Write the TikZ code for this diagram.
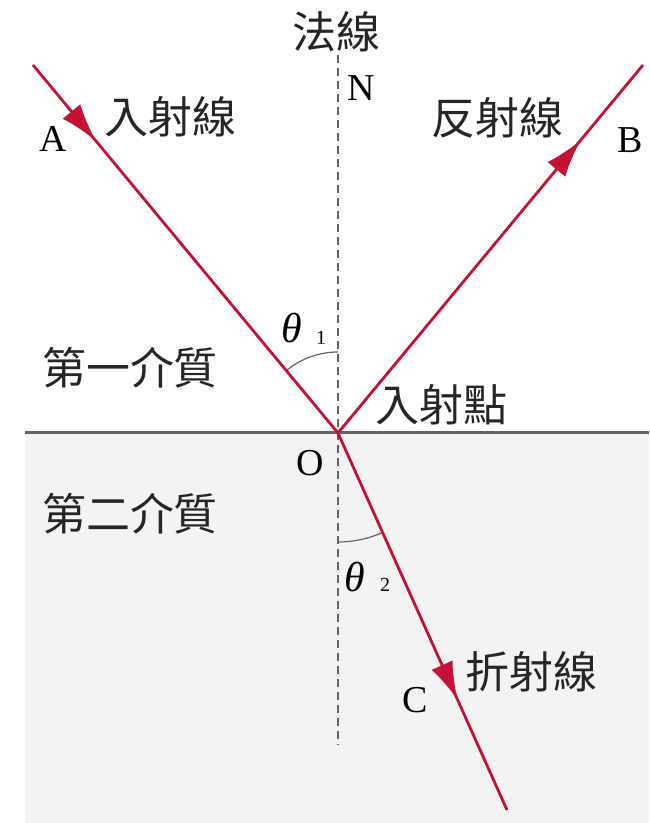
\documentclass[tikz,border=0pt]{standalone}
\usepackage{fontspec}
\setmainfont{Liberation Serif}
\newfontfamily\cjk{Noto Sans CJK TC}
\usetikzlibrary{calc,arrows.meta,decorations.markings}
\definecolor{rayred}{RGB}{196,18,52}
\definecolor{bglow}{RGB}{243,243,243}
\definecolor{lineg}{RGB}{100,100,100}
\tikzset{
  ray/.style={draw=rayred, line width=2.8pt},
  rayarrow/.style={postaction={decorate}, decoration={markings, mark=at position #1 with {\arrow[rayred]{Latex[length=38pt,width=23pt]}}}},
  cjklabel/.style={font=\cjk\fontsize{44}{44}\selectfont, inner sep=0pt, text=black!85},
  letter/.style={font=\fontsize{38}{38}\selectfont, inner sep=0pt},
  sublabel/.style={font=\fontsize{20}{20}\selectfont, inner sep=0pt},
  thetalabel/.style={font=\itshape\fontsize{42}{42}\selectfont, inner sep=0pt},
  normalline/.style={draw=lineg, line width=1.4pt, dash pattern=on 8pt off 5pt},
  anglearc/.style={draw=lineg, line width=1.2pt}
}
\begin{document}
\begin{tikzpicture}[x=1pt,y=1pt]
\useasboundingbox (0,0) rectangle (649,823);
% lower medium
\fill[bglow] (25,0) rectangle (649,390);
% key points
\coordinate (O) at (338,390);
\coordinate (A0) at (33,758);
\coordinate (B0) at (643,758);
\coordinate (C0) at (507,13);
\coordinate (Ntop) at (338,768);
\coordinate (Nbot) at (338,78);
\coordinate (Sl) at (25,390);
\coordinate (Sr) at (649,390);
% normal
\draw[normalline] (Ntop) -- (Nbot);
% interface
\draw[draw=lineg, line width=3pt] (Sl) -- (Sr);
% angle arcs
\draw[anglearc] ($(O)+(90:81)$) arc[start angle=90, end angle=129.65, radius=81];
\draw[anglearc] ($(O)+(270:109)$) arc[start angle=270, end angle=294.15, radius=109];
% rays
\draw[ray, rayarrow=0.206] (A0) -- (O);
\draw[ray, rayarrow=0.796] (O) -- (B0);
\draw[ray, rayarrow=0.708] (O) -- (C0);
% labels
\node[cjklabel] (lnormal) at (336,791) {法線};
\node[letter] (lN) at (361,735) {N};
\node[letter] (lA) at (53,684) {A};
\node[cjklabel] (linc) at (170,706) {入射線};
\node[cjklabel] (lref) at (497,705) {反射線};
\node[letter] (lB) at (630,683) {B};
\node[thetalabel] (lt1) at (292,495) {θ};
\node[sublabel] (ls1) at (321,485) {1};
\node[cjklabel] (lpt) at (441,418) {入射點};
\node[letter] (lO) at (310,360) {O};
\node[cjklabel] (lm1) at (130,455) {第一介質};
\node[cjklabel] (lm2) at (130,309) {第二介質};
\node[thetalabel] (lt2) at (355,246) {θ};
\node[sublabel] (ls2) at (385,238) {2};
\node[cjklabel] (lrefr) at (531,151) {折射線};
\node[letter] (lC) at (415,123) {C};
\end{tikzpicture}
\end{document}
